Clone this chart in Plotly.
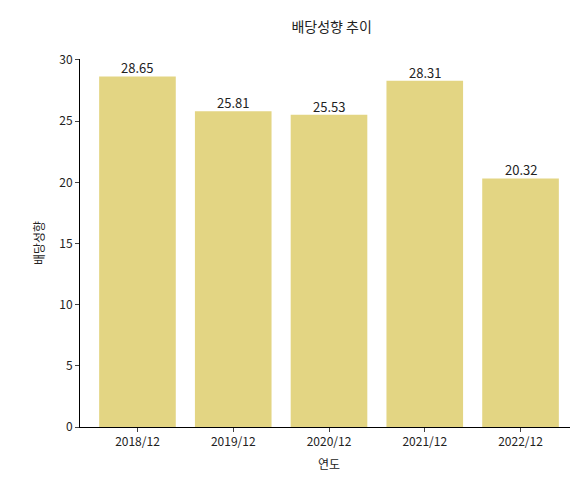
import plotly.graph_objects as go

years = ["2018/12", "2019/12", "2020/12", "2021/12", "2022/12"]
payout = [28.65, 25.81, 25.53, 28.31, 20.32]

fig = go.Figure()
fig.add_trace(go.Bar(
    x=years, y=payout,
    marker=dict(color="#e3d583", line=dict(width=0)),
    width=0.8,
    hoverinfo="skip",
))

# value labels sitting right on top of each bar
for yr, v in zip(years, payout):
    fig.add_annotation(x=yr, y=v, text=f"{v:.2f}", showarrow=False,
                       yanchor="bottom", yshift=-3, font=dict(size=13, color="#222"))

fig.update_layout(
    width=578, height=479,
    margin=dict(l=72, r=8, t=51, b=60, autoexpand=False),
    plot_bgcolor="white", paper_bgcolor="white",
    font=dict(family="Noto Sans CJK KR", size=12, color="#222"),
    title=dict(text="배당성향 추이", x=0.56, xanchor="center", y=0.97, font=dict(size=14)),
    showlegend=False,
    xaxis=dict(title=dict(text="연도", standoff=12, font=dict(size=12)), showline=True,
               linecolor="black", ticks="outside", ticklen=4, range=[-0.6, 4.6],
               automargin=False),
    yaxis=dict(title=dict(text="배당성향", standoff=12, font=dict(size=12)), showline=True,
               linecolor="black", ticks="outside", ticklen=4, range=[0, 30.08], dtick=5,
               showgrid=False, zeroline=False, automargin=False),
)

fig.write_html("out.html")
